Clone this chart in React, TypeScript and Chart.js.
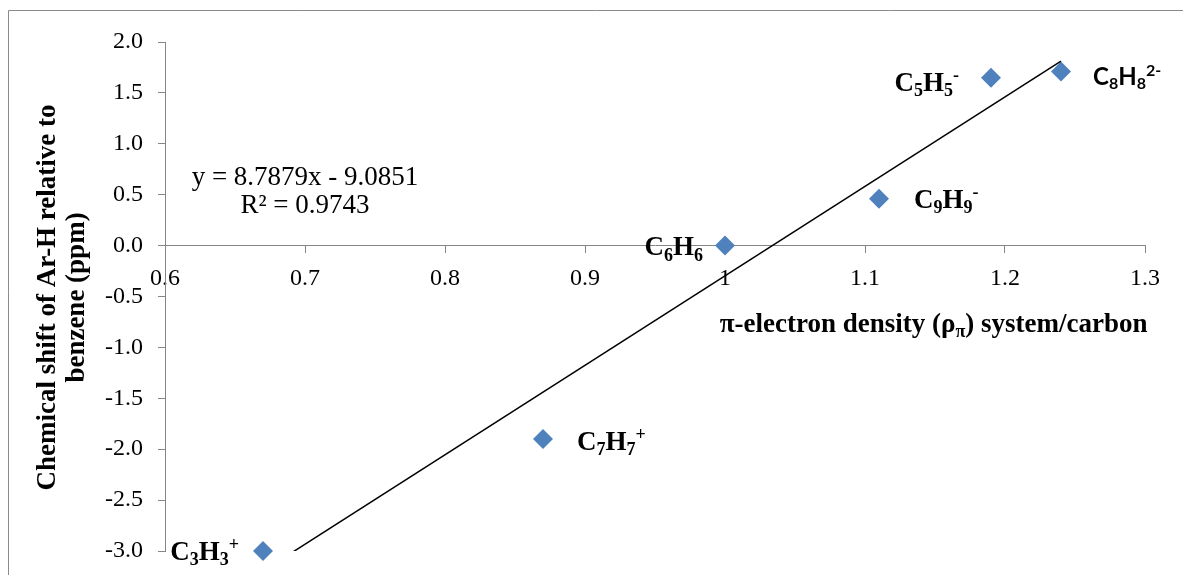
import React, { useEffect, useRef } from 'react';
import { Chart, registerables } from 'chart.js';

Chart.register(...registerables);

// ---- data ----
const xValues = [0.67, 0.87, 1.0, 1.11, 1.19, 1.24];
const yValues = [-3.0, -1.9, 0.0, 0.46, 1.65, 1.71];
const pointLabels = [
  'C_{3}H_{3}^{+}',
  'C_{7}H_{7}^{+}',
  'C_{6}H_{6}',
  'C_{9}H_{9}^{-}',
  'C_{5}H_{5}^{-}',
  'C_{8}H_{8}^{2-}',
];
const xTicks = [0.6, 0.7, 0.8, 0.9, 1.0, 1.1, 1.2, 1.3];
const xTickLabels = ['0.6', '0.7', '0.8', '0.9', '1', '1.1', '1.2', '1.3'];
const yTicks = [-3, -2.5, -2, -1.5, -1, -0.5, 0, 0.5, 1, 1.5, 2];
const yTickLabels = ['-3.0', '-2.5', '-2.0', '-1.5', '-1.0', '-0.5', '0.0', '0.5', '1.0', '1.5', '2.0'];
const trendSlope = 8.7879;
const trendIntercept = -9.0851;
const rSquared = 0.9743;
const xTitle = 'π-electron density (ρ_{π}) system/carbon';
const yTitleLines = ['Chemical shift of Ar-H relative to', 'benzene (ppm)'];

// ---- styles ----
const SERIF = '"Liberation Serif", "Times New Roman", serif';
const SANS = 'Lato, "Liberation Sans", Arial, sans-serif';
const AXIS_GRAY = '#868686';
const MARKER_BLUE = '#4F81BD';

const labelStyles = [
  { side: 'left', gap: 24, dy: 9, family: SERIF, size: 27 },
  { side: 'right', gap: 34, dy: 11, family: SERIF, size: 27 },
  { side: 'left', gap: 22, dy: 9.5, family: SERIF, size: 27 },
  { side: 'right', gap: 35, dy: 9, family: SERIF, size: 27 },
  { side: 'left', gap: 32, dy: 13, family: SERIF, size: 27 },
  { side: 'right', gap: 32, dy: 13, family: SANS, size: 24 },
];

type Seg = { t: string; kind: 'n' | 'sub' | 'sup' };

function parseRich(text: string): Seg[] {
  const out: Seg[] = [];
  const re = /([_^])\{([^}]*)\}|([^_^]+)/g;
  let m: RegExpExecArray | null;
  while ((m = re.exec(text))) {
    if (m[1]) out.push({ t: m[2], kind: m[1] === '_' ? 'sub' : 'sup' });
    else out.push({ t: m[3], kind: 'n' });
  }
  return out;
}

function drawRich(
  ctx: CanvasRenderingContext2D,
  text: string,
  x: number,
  y: number,
  size: number,
  family: string,
  weight: string,
  align: 'left' | 'right' | 'center'
) {
  const segs = parseRich(text);
  const small = Math.round(size * 0.66);
  const fontFor = (k: Seg['kind']) => `${weight} ${k === 'n' ? size : small}px ${family}`;
  let total = 0;
  const widths = segs.map((s) => {
    ctx.font = fontFor(s.kind);
    const w = ctx.measureText(s.t).width;
    total += w;
    return w;
  });
  let cx = x;
  if (align === 'right') cx = x - total;
  else if (align === 'center') cx = x - total / 2;
  ctx.textAlign = 'left';
  ctx.textBaseline = 'alphabetic';
  segs.forEach((s, i) => {
    ctx.font = fontFor(s.kind);
    let yy = y;
    if (s.kind === 'sub') yy = y + size * 0.2;
    if (s.kind === 'sup') yy = y - size * 0.36;
    ctx.fillText(s.t, cx, yy);
    cx += widths[i];
  });
}

const decorPlugin = {
  id: 'decor',
  beforeDraw(chart: any) {
    const ctx = chart.ctx as CanvasRenderingContext2D;
    ctx.save();
    ctx.fillStyle = '#ffffff';
    ctx.fillRect(0, 0, chart.width, chart.height);
    ctx.strokeStyle = '#8a8a8a';
    ctx.lineWidth = 1;
    ctx.beginPath();
    ctx.moveTo(8.5, chart.height);
    ctx.lineTo(8.5, 10.5);
    ctx.lineTo(chart.width, 10.5);
    ctx.stroke();
    ctx.restore();
  },
  afterDraw(chart: any) {
    const ctx = chart.ctx as CanvasRenderingContext2D;
    const xs = chart.scales.x;
    const ys = chart.scales.y;
    const area = chart.chartArea;
    ctx.save();
    ctx.fillStyle = '#000000';

    // point labels
    const meta = chart.getDatasetMeta(0);
    meta.data.forEach((pt: any, i: number) => {
      const st = labelStyles[i];
      const px = pt.x;
      const py = pt.y;
      if (st.side === 'left') {
        drawRich(ctx, pointLabels[i], px - st.gap, py + st.dy, st.size, st.family, 'bold', 'right');
      } else {
        drawRich(ctx, pointLabels[i], px + st.gap, py + st.dy, st.size, st.family, 'bold', 'left');
      }
    });

    // trendline equation
    const eqX = xs.getPixelForValue(0.7);
    const eqY = ys.getPixelForValue(0.6);
    const sign = trendIntercept < 0 ? '-' : '+';
    drawRich(ctx, `y = ${trendSlope}x ${sign} ${Math.abs(trendIntercept)}`, eqX, eqY, 27, SERIF, 'normal', 'center');
    drawRich(ctx, `R² = ${rSquared}`, eqX, eqY + 28, 27, SERIF, 'normal', 'center');

    // x axis title
    const zeroY = ys.getPixelForValue(0);
    drawRich(ctx, xTitle, xs.getPixelForValue(1.149), zeroY + 86, 27, SERIF, 'bold', 'center');

    // y axis title (rotated)
    const cy = (area.top + area.bottom) / 2 + 1;
    const baselines = [55, 84];
    yTitleLines.forEach((line, i) => {
      ctx.save();
      ctx.translate(baselines[i], cy);
      ctx.rotate(-Math.PI / 2);
      drawRich(ctx, line, 0, 0, 27, SERIF, 'bold', 'center');
      ctx.restore();
    });
    ctx.restore();
  },
};

export default function App() {
  const canvasRef = useRef<HTMLCanvasElement | null>(null);

  useEffect(() => {
    const canvas = canvasRef.current;
    if (!canvas) return;
    const xMin = Math.min(...xValues);
    const xMax = Math.max(...xValues);
    const trend = [
      { x: xMin, y: trendSlope * xMin + trendIntercept },
      { x: xMax, y: trendSlope * xMax + trendIntercept },
    ];
    const chart = new Chart(canvas, {
      type: 'scatter',
      data: {
        datasets: [
          {
            label: 'data',
            data: xValues.map((x, i) => ({ x, y: yValues[i] })),
            pointStyle: 'rectRot',
            pointRadius: 10,
            pointHoverRadius: 10,
            backgroundColor: MARKER_BLUE,
            borderColor: MARKER_BLUE,
            borderWidth: 0,
            clip: false,
            order: 1,
          } as any,
          {
            label: 'trend',
            type: 'line',
            data: trend,
            borderColor: '#000000',
            borderWidth: 1.5,
            pointRadius: 0,
            showLine: true,
            fill: false,
            order: 0,
          } as any,
        ],
      },
      options: {
        responsive: false,
        animation: false,
        events: [],
        layout: { padding: { top: 42, right: 38, bottom: 24, left: 0 } },
        plugins: {
          legend: { display: false },
          tooltip: { enabled: false },
          title: { display: false },
        },
        scales: {
          x: {
            type: 'linear',
            position: { y: 0 } as any,
            min: 0.6,
            max: 1.3,
            afterBuildTicks: (s: any) => {
              s.ticks = xTicks.map((v) => ({ value: v }));
            },
            afterFit: (s: any) => {
              s.height = 0;
              s.paddingTop = 0;
              s.paddingBottom = 0;
            },
            ticks: {
              autoSkip: false,
              maxRotation: 0,
              padding: 12,
              color: '#000000',
              font: { family: SERIF, size: 24 },
              callback: (_v: any, i: number) => xTickLabels[i],
            },
            grid: {
              drawOnChartArea: false,
              drawTicks: true,
              tickLength: 7,
              color: AXIS_GRAY,
              lineWidth: 1,
            },
            border: { color: AXIS_GRAY, width: 1 },
          },
          y: {
            type: 'linear',
            position: 'left',
            min: -3,
            max: 2,
            afterBuildTicks: (s: any) => {
              s.ticks = yTicks.map((v) => ({ value: v }));
            },
            afterFit: (s: any) => {
              s.width = 165;
              s.paddingTop = 0;
              s.paddingBottom = 0;
            },
            ticks: {
              autoSkip: false,
              padding: 15,
              color: '#000000',
              font: { family: SERIF, size: 24 },
              callback: (_v: any, i: number) => yTickLabels[i],
            },
            grid: {
              drawOnChartArea: false,
              drawTicks: true,
              tickLength: 7,
              color: AXIS_GRAY,
              lineWidth: 1,
            },
            border: { color: AXIS_GRAY, width: 1 },
          },
        },
      },
      plugins: [decorPlugin],
    });
    return () => chart.destroy();
  }, []);

  return (
    <div style={{ position: 'fixed', left: 0, top: 0, width: 1183, height: 575, background: '#fff' }}>
      <canvas ref={canvasRef} width={1183} height={575} style={{ display: 'block' }} />
    </div>
  );
}
